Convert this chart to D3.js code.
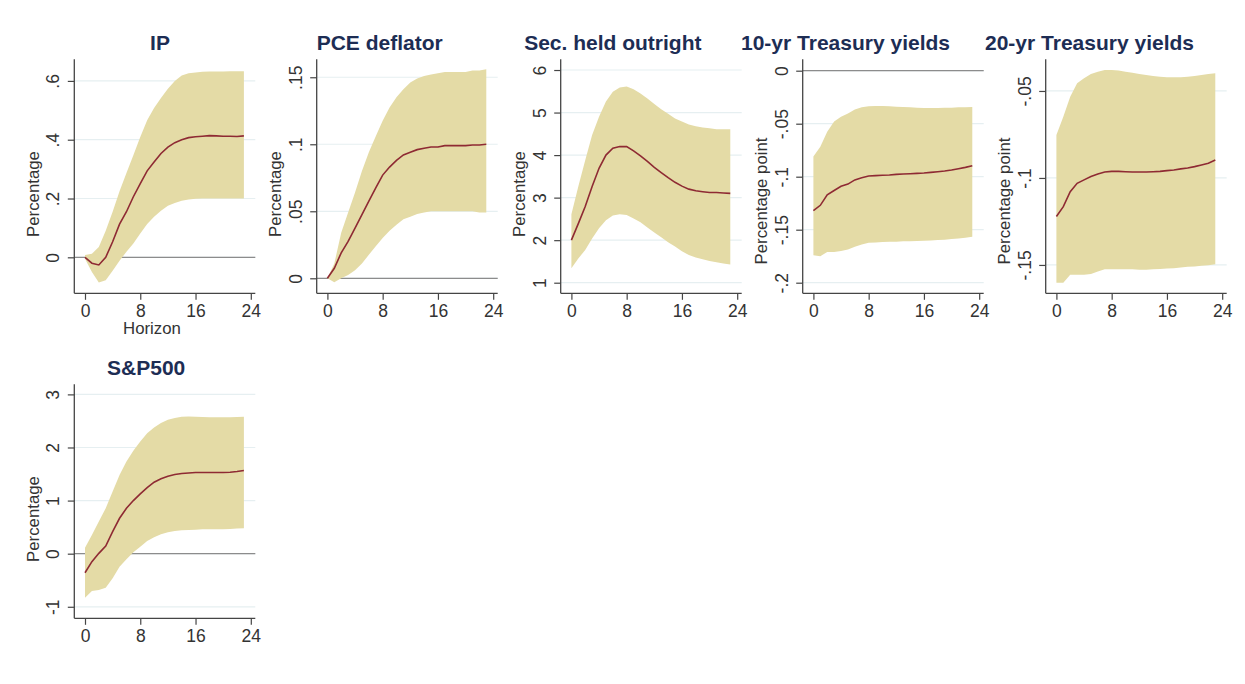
<!DOCTYPE html>
<html>
<head>
<meta charset="utf-8">
<script src="https://cdn.jsdelivr.net/npm/d3@7"></script>
<style>
  html, body { margin: 0; padding: 0; background: #ffffff; }
  svg { display: block; }
  text { font-family: "Liberation Sans", Arial, Helvetica, sans-serif; }
</style>
</head>
<body>
<svg id="chart" width="1245" height="684"></svg>
<script>
// ---------------- DATA ----------------
const horizon = [0,1,2,3,4,5,6,7,8,9,10,11,12,13,14,15,16,17,18,19,20,21,22,23];

const xTicks = [0, 8, 16, 24];
const xTickLabels = ["0", "8", "16", "24"];

const ipMean  = [0, -0.02, -0.026, 0.0, 0.053, 0.113, 0.155, 0.206, 0.251, 0.294, 0.324, 0.353, 0.375, 0.39, 0.40, 0.407, 0.41, 0.412, 0.414, 0.413, 0.412, 0.412, 0.411, 0.413];
const ipUpper = [0.008, 0.012, 0.035, 0.09, 0.155, 0.225, 0.287, 0.347, 0.409, 0.466, 0.508, 0.542, 0.573, 0.6, 0.618, 0.626, 0.629, 0.631, 0.632, 0.632, 0.632, 0.633, 0.633, 0.633];
const ipLower = [-0.005, -0.05, -0.086, -0.078, -0.046, -0.012, 0.019, 0.047, 0.081, 0.113, 0.138, 0.158, 0.175, 0.185, 0.192, 0.197, 0.199, 0.2, 0.2, 0.2, 0.2, 0.2, 0.2, 0.2];
const ipYTicks = [0, 0.2, 0.4, 0.6];
const ipYLabels = ["0", ".2", ".4", ".6"];

const pceMean  = [0, 0.0075, 0.019, 0.0275, 0.0375, 0.0475, 0.0575, 0.0675, 0.077, 0.083, 0.088, 0.092, 0.094, 0.096, 0.097, 0.098, 0.098, 0.099, 0.099, 0.099, 0.099, 0.0995, 0.0995, 0.1];
const pceUpper = [0, 0.011, 0.034, 0.049, 0.064, 0.08, 0.094, 0.106, 0.1175, 0.1275, 0.135, 0.141, 0.146, 0.149, 0.151, 0.152, 0.153, 0.154, 0.154, 0.154, 0.154, 0.155, 0.155, 0.156];
const pceLower = [0, -0.003, 0, 0.0025, 0.006, 0.011, 0.0175, 0.024, 0.03, 0.0355, 0.04, 0.044, 0.046, 0.048, 0.049, 0.05, 0.05, 0.05, 0.05, 0.05, 0.05, 0.05, 0.049, 0.049];
const pceYTicks = [0, 0.05, 0.1, 0.15];
const pceYLabels = ["0", ".05", ".1", ".15"];

const secMean  = [2.0, 2.39, 2.79, 3.26, 3.69, 4.0, 4.16, 4.2, 4.2, 4.1, 3.98, 3.85, 3.71, 3.59, 3.47, 3.36, 3.27, 3.2, 3.16, 3.14, 3.12, 3.12, 3.11, 3.1];
const secUpper = [2.61, 3.26, 3.88, 4.47, 4.9, 5.26, 5.49, 5.59, 5.61, 5.55, 5.45, 5.33, 5.2, 5.08, 4.97, 4.86, 4.79, 4.72, 4.68, 4.65, 4.63, 4.61, 4.61, 4.61];
const secLower = [1.34, 1.57, 1.77, 2.04, 2.28, 2.47, 2.58, 2.61, 2.59, 2.51, 2.42, 2.3, 2.18, 2.07, 1.95, 1.85, 1.74, 1.65, 1.59, 1.55, 1.51, 1.48, 1.45, 1.43];
const secYTicks = [1, 2, 3, 4, 5, 6];
const secYLabels = ["1", "2", "3", "4", "5", "6"];

const t10Mean  = [-0.132, -0.127, -0.117, -0.113, -0.109, -0.107, -0.103, -0.101, -0.0994, -0.099, -0.0987, -0.0984, -0.0978, -0.0975, -0.0972, -0.0969, -0.0965, -0.0959, -0.0953, -0.0947, -0.0937, -0.0925, -0.0912, -0.0896];
const t10Upper = [-0.081, -0.0717, -0.0575, -0.048, -0.0434, -0.0403, -0.0365, -0.0346, -0.0336, -0.0333, -0.0333, -0.0336, -0.034, -0.0343, -0.0346, -0.0349, -0.0352, -0.0352, -0.0352, -0.0349, -0.0349, -0.0346, -0.0346, -0.0343];
const t10Lower = [-0.174, -0.175, -0.171, -0.171, -0.170, -0.1686, -0.166, -0.164, -0.1623, -0.162, -0.1616, -0.1613, -0.1613, -0.161, -0.161, -0.1607, -0.1604, -0.1601, -0.1597, -0.1594, -0.1588, -0.1582, -0.1575, -0.1566];
const t10YTicks = [0, -0.05, -0.1, -0.15, -0.2];
const t10YLabels = ["0", "-.05", "-.1", "-.15", "-.2"];

const t20Mean  = [-0.1222, -0.1165, -0.1079, -0.1031, -0.1011, -0.0992, -0.0977, -0.0966, -0.0962, -0.0962, -0.0964, -0.0966, -0.0966, -0.0966, -0.0964, -0.0962, -0.0958, -0.0954, -0.0948, -0.0943, -0.0935, -0.0925, -0.0916, -0.0897];
const t20Upper = [-0.0753, -0.0648, -0.0533, -0.0456, -0.0427, -0.0402, -0.0389, -0.0379, -0.0379, -0.0383, -0.0389, -0.0395, -0.0402, -0.0408, -0.0414, -0.0418, -0.0421, -0.0421, -0.0421, -0.0419, -0.0414, -0.0408, -0.0402, -0.0398];
const t20Lower = [-0.1602, -0.1602, -0.1557, -0.1557, -0.1557, -0.1552, -0.1538, -0.1525, -0.1525, -0.1525, -0.1525, -0.1525, -0.1527, -0.1527, -0.1525, -0.1523, -0.1521, -0.1519, -0.1515, -0.1511, -0.1509, -0.1505, -0.1502, -0.1496];
const t20YTicks = [-0.05, -0.1, -0.15];
const t20YLabels = ["-.05", "-.1", "-.15"];

const spMean  = [-0.36, -0.15, 0.006, 0.145, 0.415, 0.667, 0.855, 1.0, 1.126, 1.245, 1.346, 1.41, 1.46, 1.49, 1.51, 1.52, 1.528, 1.528, 1.528, 1.528, 1.528, 1.535, 1.547, 1.566];
const spUpper = [0.113, 0.352, 0.604, 0.855, 1.17, 1.484, 1.736, 1.937, 2.113, 2.27, 2.377, 2.459, 2.522, 2.553, 2.579, 2.585, 2.58, 2.575, 2.57, 2.57, 2.57, 2.57, 2.575, 2.58];
const spLower = [-0.83, -0.704, -0.686, -0.642, -0.465, -0.245, -0.107, 0.025, 0.132, 0.239, 0.308, 0.365, 0.403, 0.428, 0.44, 0.447, 0.453, 0.459, 0.459, 0.459, 0.459, 0.465, 0.472, 0.478];
const spYTicks = [-1, 0, 1, 2, 3];
const spYLabels = ["-1", "0", "1", "2", "3"];

const titles = ["IP", "PCE deflator", "Sec. held outright", "10-yr Treasury yields", "20-yr Treasury yields", "S&P500"];
const yTitles = ["Percentage", "Percentage", "Percentage", "Percentage point", "Percentage point", "Percentage"];

// ---------------- LAYOUT ----------------
const colLeft = [74.3, 316.7, 560.7, 802.7, 1045.7];
const rowTop = [59.3, 384.3];
const plotH = 234;
const plotW = 181;
const xPadL = 10.7, xPadR = 176.5;

const panels = [
  {mean: ipMean,  hi: ipUpper,  lo: ipLower,  ticks: ipYTicks,  labels: ipYLabels,  dom: [-0.1224, 0.6735], col: 0, row: 0, titleX: 160,    ytY: 194, zero: true,  xtitle: "Horizon"},
  {mean: pceMean, hi: pceUpper, lo: pceLower, ticks: pceYTicks, labels: pceYLabels, dom: [-0.0112, 0.1634], col: 1, row: 0, titleX: 379.7,  ytY: 194, zero: true},
  {mean: secMean, hi: secUpper, lo: secLower, ticks: secYTicks, labels: secYLabels, dom: [0.751, 6.252],    col: 2, row: 0, titleX: 612.8,  ytY: 194, zero: false},
  {mean: t10Mean, hi: t10Upper, lo: t10Lower, ticks: t10YTicks, labels: t10YLabels, dom: [-0.21, 0.01075],  col: 3, row: 0, titleX: 845.5,  ytY: 201, zero: true},
  {mean: t20Mean, hi: t20Upper, lo: t20Lower, ticks: t20YTicks, labels: t20YLabels, dom: [-0.1663, -0.0318],col: 4, row: 0, titleX: 1089.5, ytY: 201, zero: false},
  {mean: spMean,  hi: spUpper,  lo: spLower,  ticks: spYTicks,  labels: spYLabels,  dom: [-1.217, 3.19],    col: 0, row: 1, titleX: 146.2,  ytY: 194, zero: true}
];

const C = {
  band: "#e4dba6",
  line: "#8e2a33",
  title: "#1d2d54",
  axis: "#454545",
  text: "#333333",
  grid: "#e6eff1",
  zero: "#8c8c8c"
};

const FONT = '"Liberation Sans", Arial, sans-serif';
const svg = d3.select("#chart");
svg.append("rect").attr("width", 1245).attr("height", 684).attr("fill", "#fff");

panels.forEach((p, i) => {
  const x0 = colLeft[p.col];
  const y0 = rowTop[p.row];
  const rowOff = p.row * 325;
  const x = d3.scaleLinear().domain([0, 24]).range([x0 + xPadL, x0 + xPadR]);
  const y = d3.scaleLinear().domain(p.dom).range([y0 + plotH, y0]);
  const g = svg.append("g");

  // gridlines
  g.selectAll(".grid").data(p.ticks).enter().append("line")
    .attr("x1", x0).attr("x2", x0 + plotW)
    .attr("y1", d => y(d)).attr("y2", d => y(d))
    .attr("stroke", C.grid).attr("stroke-width", 1.2);

  // zero line
  if (p.zero) {
    g.append("line")
      .attr("x1", x0).attr("x2", x0 + plotW)
      .attr("y1", y(0)).attr("y2", y(0))
      .attr("stroke", C.zero).attr("stroke-width", 1.3);
  }

  // band
  const area = d3.area()
    .x((d, j) => x(horizon[j]))
    .y0((d, j) => y(p.lo[j]))
    .y1((d, j) => y(p.hi[j]));
  g.append("path").datum(horizon).attr("d", area).attr("fill", C.band);

  // mean line
  const line = d3.line().x((d, j) => x(horizon[j])).y((d, j) => y(p.mean[j]));
  g.append("path").datum(horizon).attr("d", line)
    .attr("fill", "none").attr("stroke", C.line).attr("stroke-width", 1.6);

  // y axis
  const yAxis = d3.axisLeft(y).tickValues(p.ticks)
    .tickFormat((d, k) => p.labels[k]).tickSize(6.5).tickPadding(0);
  const ya = g.append("g").attr("transform", `translate(${x0},0)`).call(yAxis);
  ya.attr("font-size", 17.5).attr("font-family", FONT);
  ya.select(".domain").attr("d", `M-0,${y0}V${y0 + plotH}`).attr("stroke", C.axis).attr("stroke-width", 1.3);
  ya.selectAll(".tick line").attr("stroke", C.axis).attr("stroke-width", 1.2);
  ya.selectAll(".tick text")
    .attr("x", null).attr("dy", null)
    .attr("text-anchor", "middle")
    .attr("transform", "translate(-15,0) rotate(-90)")
    .attr("fill", C.text);

  // x axis
  const xAxis = d3.axisBottom(x).tickValues(xTicks)
    .tickFormat((d, k) => xTickLabels[k]).tickSize(6.5).tickPadding(0);
  const xa = g.append("g").attr("transform", `translate(0,${y0 + plotH})`).call(xAxis);
  xa.attr("font-size", 17.5).attr("font-family", FONT);
  xa.select(".domain").attr("d", `M${x0},0H${x0 + plotW}`).attr("stroke", C.axis).attr("stroke-width", 1.3);
  xa.selectAll(".tick line").attr("stroke", C.axis).attr("stroke-width", 1.2);
  xa.selectAll(".tick text")
    .attr("y", 23.5).attr("dy", null)
    .attr("fill", C.text);

  // y title
  g.append("text")
    .attr("transform", `translate(${x0 - 35.5},${p.ytY + rowOff}) rotate(-90)`)
    .attr("text-anchor", "middle")
    .attr("fill", C.text).attr("font-size", 16.8)
    .text(yTitles[i]);

  // x title
  if (p.xtitle) {
    g.append("text")
      .attr("x", 152).attr("y", 333.5 + rowOff)
      .attr("text-anchor", "middle")
      .attr("fill", C.text).attr("font-size", 16.8)
      .text(p.xtitle);
  }

  // title
  g.append("text")
    .attr("x", p.titleX).attr("y", 50 + rowOff)
    .attr("text-anchor", "middle")
    .attr("fill", C.title).attr("font-size", 21).attr("font-weight", "bold")
    .text(titles[i]);
});
</script>
</body>
</html>
